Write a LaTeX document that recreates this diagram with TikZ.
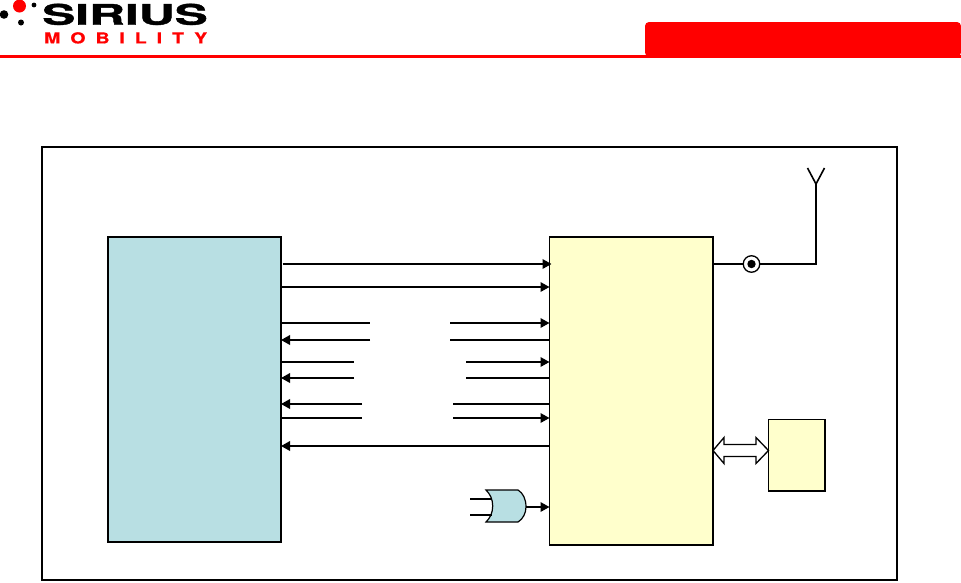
\documentclass[tikz,border=0pt]{standalone}
\usepackage{fontspec}
\setmainfont{TeX Gyre Heros}[BoldFeatures={FakeBold=1.2}]
\newfontfamily\logospaced{TeX Gyre Heros}[LetterSpace=51,BoldFeatures={FakeBold=0.6}]
\usetikzlibrary{arrows.meta}
\definecolor{bluefill}{HTML}{B8DFE3}
\definecolor{yellowfill}{HTML}{FFFFCC}
\definecolor{logored}{HTML}{FF0000}
\tikzset{
  block/.style={draw=black,line width=1.2pt,inner sep=0pt,outer sep=0pt,anchor=north west},
  wire/.style={draw=black,line width=1.8pt},
  wirehead/.style={wire,-{Triangle[length=9pt,width=9.5pt]}},
  thin wire/.style={draw=black,line width=1.6pt}
}
\begin{document}
\begin{tikzpicture}[x=1pt,y=-1pt]
\useasboundingbox (0,0) rectangle (961,582);
% header
\fill[logored] (0,54.6) rectangle (961,57.6);
\fill[logored,rounded corners=4pt] (645,22) rectangle (961,56.5);
\fill[logored] (19.5,6) circle (6.5);
\fill[black] (4,14.5) circle (4.3);
\fill[black] (21,22.5) circle (3);
\fill[black] (34,5) circle (2.4);
\node[anchor=north west,inner sep=0pt] (logoname) at (42,3.5)
  {\resizebox{165.5pt}{21pt}{\bfseries SIRIUS}};
\node[anchor=north west,inner sep=0pt,text=logored] (logosub) at (44,32)
  {\resizebox{163pt}{11.2pt}{\logospaced\bfseries\fontsize{15}{16}\selectfont MOBILITY}};
% frame
\node[block,minimum width=855pt,minimum height=433pt] (frame) at (42,147) {};
\node[block,fill=bluefill,minimum width=173pt,minimum height=305pt] (cpu) at (108,237) {};
\node[block,fill=yellowfill,minimum width=163.5pt,minimum height=308pt] (radio) at (549.5,237) {};
\node[block,fill=yellowfill,minimum width=56.5pt,minimum height=71.5pt] (mem) at (768.5,419.5) {};
% free ends of the broken lines
\coordinate (s1) at (282.5,264); \coordinate (t1) at (551.5,264);
\coordinate (a3) at (370,323);   \coordinate (b3) at (450,323);
\coordinate (a4) at (370,340); \coordinate (b4) at (450,340);
\coordinate (a5) at (354,362);   \coordinate (b5) at (466,362);
\coordinate (a6) at (354,378);   \coordinate (b6) at (466,378);
\coordinate (a7) at (362,404); \coordinate (b7) at (453,404);
\coordinate (a8) at (362,418);   \coordinate (b8) at (453,418);
% bus lines
\draw[wirehead] (s1) -- (t1);
\draw[wirehead] (cpu.east |- 0,287) -- (radio.west |- 0,287);
\draw[wire] (cpu.east |- a3) -- (a3);
\draw[wirehead] (b3) -- (radio.west |- b3);
\draw[wirehead] (a4) -- (cpu.east |- a4);
\draw[wire] (b4) -- (radio.west |- b4);
\draw[wire] (cpu.east |- a5) -- (a5);
\draw[wirehead] (b5) -- (radio.west |- b5);
\draw[wirehead] (a6) -- (cpu.east |- a6);
\draw[wire] (b6) -- (radio.west |- b6);
\draw[wirehead] (a7) -- (cpu.east |- a7);
\draw[wire] (b7) -- (radio.west |- b7);
\draw[wire] (cpu.east |- a8) -- (a8);
\draw[wirehead] (b8) -- (radio.west |- b8);
\draw[wirehead] (radio.west |- 0,446) -- (cpu.east |- 0,446);
% antenna
\coordinate (apex) at (816,184);
\node[circle,draw=black,fill=white,line width=1.3pt,minimum size=16.5pt,inner sep=0pt] (conn) at (751.5,264) {};
\fill[black] (conn.center) circle (4.2);
\draw[thin wire] (radio.east |- conn) -- (conn);
\draw[thin wire] (conn) -| (apex);
\draw[thin wire] (807.5,168) -- (apex) -- (824.5,168);
% double arrow
\draw[draw=black,fill=white,line width=1.3pt,line join=miter]
  (radio.east |- 0,450.5) -- (724,437.5) -- (724,444.5) -- (756,444.5) -- (756,437.5)
  -- (mem.west |- 0,450.5) -- (756,463.5) -- (756,456.5) -- (724,456.5) -- (724,463.5) -- cycle;
% OR gate
\coordinate (in1) at (470,499);
\coordinate (in2) at (470,515);
\coordinate (gateout) at (526,507);
\draw[draw=black,fill=bluefill,line width=1.2pt]
  (486,490) -- (518,490) .. controls (523,493) and (526,499) .. (gateout)
  .. controls (526,513) and (523,519) .. (518,522) -- (486,522)
  .. controls (490,518) and (492.7,513) .. (492.7,506)
  .. controls (492.7,499) and (490,494) .. (486,490) -- cycle;
\draw[wire] (in1) -- (492,499);
\draw[wire] (in2) -- (492,515);
\draw[wirehead] (gateout) -- (radio.west |- gateout);
\end{tikzpicture}
\end{document}
